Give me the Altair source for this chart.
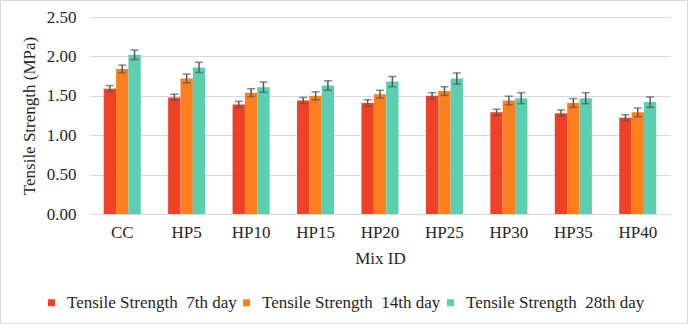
import altair as alt
import pandas as pd

mixes = ["CC", "HP5", "HP10", "HP15", "HP20", "HP25", "HP30", "HP35", "HP40"]
series = ["Tensile Strength\u00a0 7th day", "Tensile Strength\u00a0 14th day", "Tensile Strength\u00a0 28th day"]
colors = ["#EF4127", "#FD7F20", "#5DCFB1"]

day7 = [1.59, 1.48, 1.39, 1.44, 1.41, 1.50, 1.29, 1.28, 1.22]
day14 = [1.84, 1.72, 1.54, 1.50, 1.52, 1.56, 1.44, 1.41, 1.29]
day28 = [2.02, 1.86, 1.61, 1.63, 1.68, 1.72, 1.47, 1.47, 1.42]
err7 = [0.04, 0.04, 0.04, 0.04, 0.04, 0.04, 0.04, 0.04, 0.04]
err14 = [0.05, 0.055, 0.05, 0.05, 0.05, 0.055, 0.055, 0.055, 0.055]
err28 = [0.06, 0.065, 0.065, 0.06, 0.065, 0.07, 0.07, 0.07, 0.065]
yticks = [0, 0.5, 1.0, 1.5, 2.0, 2.5]

rows = []
for s, vals, errs in zip(series, [day7, day14, day28], [err7, err14, err28]):
    for m, v, e in zip(mixes, vals, errs):
        rows.append({"Mix": m, "Series": s, "value": v, "lo": v - e, "hi": v + e})
df = pd.DataFrame(rows)

FONT = "Liberation Serif"
TXT = "#262626"

x = alt.X("Mix:N", sort=mixes, title="Mix ID",
          scale=alt.Scale(paddingInner=0.425, paddingOuter=0.2125),
          axis=alt.Axis(labelAngle=0, ticks=False, domainColor="#d9d9d9", domainWidth=1,
                        labelPadding=10, titlePadding=10, grid=False))
xo = alt.XOffset("Series:N", sort=series, scale=alt.Scale(paddingInner=0, paddingOuter=0))

yscale = alt.Scale(domain=[0, 2.5], nice=False)
yaxis = alt.Axis(values=yticks, format=".2f", domain=False, labelOverlap=False,
                 ticks=False, gridColor="#d9d9d9", gridWidth=1, labelPadding=14,
                 titlePadding=8)
YTITLE = "Tensile Strength (MPa)"

base = alt.Chart(df)

bars = base.mark_bar().encode(
    x=x, xOffset=xo,
    y=alt.Y("value:Q", title=YTITLE, scale=yscale, axis=yaxis),
    color=alt.Color("Series:N", sort=series,
                    scale=alt.Scale(domain=series, range=colors),
                    legend=alt.Legend(title=None, orient="none", direction="horizontal",
                                      legendX=-47, legendY=277, padding=0,
                                      symbolType="square",
                                      symbolSize=49, symbolStrokeWidth=0, labelOffset=7,
                                      columnPadding=1, labelFontSize=17, labelFont=FONT,
                                      labelColor=TXT, labelLimit=400)),
)

rules = base.mark_rule(color="#595959", strokeWidth=1.5).encode(
    x=x, xOffset=xo,
    y=alt.Y("lo:Q", title=YTITLE, scale=yscale, axis=yaxis), y2="hi:Q")
cap_lo = base.mark_tick(color="#595959", thickness=1.5, size=8).encode(
    x=x, xOffset=xo, y=alt.Y("lo:Q", title=YTITLE, scale=yscale, axis=yaxis))
cap_hi = base.mark_tick(color="#595959", thickness=1.5, size=8).encode(
    x=x, xOffset=xo, y=alt.Y("hi:Q", title=YTITLE, scale=yscale, axis=yaxis))

frame = alt.Chart(alt.Data(values=[{"k": 1}])).mark_rect(
    fill=None, stroke="#d9d9d9", strokeWidth=1).encode(
    x=alt.value(-89.5), x2=alt.value(597.5), y=alt.value(-16.5), y2=alt.value(306.5))

chart = alt.layer(bars, rules, cap_lo, cap_hi, frame).properties(
    width=580, height=197,
    background="white",
    autosize=alt.AutoSizeParams(type="none"),
    padding={"left": 90, "top": 17, "right": 18, "bottom": 110},
).configure_view(stroke=None).configure_axis(
    labelFont=FONT, titleFont=FONT, labelFontSize=17, titleFontSize=17,
    labelColor=TXT, titleColor=TXT, titleFontWeight="normal",
)

chart.save("out.html", embed_options={"renderer": "svg", "actions": False})
